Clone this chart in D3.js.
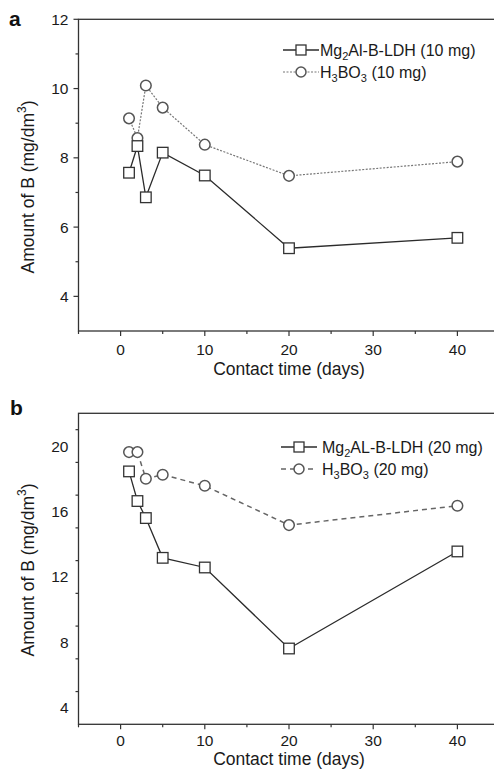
<!DOCTYPE html>
<html>
<head>
<meta charset="utf-8">
<script src="https://cdn.jsdelivr.net/npm/d3@7"></script>
<style>
  body { margin: 0; background: #fff; }
  svg { display: block; font-family: "Liberation Sans", Arial, sans-serif; }
  .tick-label { font-size: 15.5px; fill: #1a1a1a; }
  .axis-title { font-size: 17.5px; fill: #1a1a1a; }
  .legend-text { font-size: 16px; fill: #1a1a1a; }
</style>
</head>
<body>
<div id="chart"></div>
<script>
const days = [1, 2, 3, 5, 10, 20, 40];
const ldhA = [7.57, 8.34, 6.86, 8.15, 7.49, 5.39, 5.69];
const boricA = [9.14, 8.57, 10.09, 9.45, 8.38, 7.48, 7.89];
const ldhB = [18.45, 16.64, 15.6, 13.17, 12.58, 7.63, 13.56];
const boricB = [19.63, 19.63, 18.0, 18.25, 17.57, 15.17, 16.35];
const xTicks = [0, 10, 20, 30, 40];
const yTicksA = [4, 6, 8, 10, 12];
const yTicksB = [4, 8, 12, 16, 20];

const width = 494, height = 769;
const left = 78.5, right = 499.5;
const lineColor = "#2b2b2b";

const svg = d3.select("#chart").append("svg")
    .attr("width", width)
    .attr("height", height);

const x = d3.scaleLinear().domain([-5, 45]).range([left, right]);

function panel(opts) {
    const y = d3.scaleLinear().domain(opts.yDomain).range([opts.bottom, opts.top]);
    const g = svg.append("g");

    // frame
    g.append("rect")
        .attr("x", left).attr("y", opts.top)
        .attr("width", right - left).attr("height", opts.bottom - opts.top)
        .attr("fill", "none").attr("stroke", "#333").attr("stroke-width", 1.3);

    // x ticks (major + minor every 5)
    d3.range(-5, 46, 5).forEach(v => {
        const major = v % 10 === 0;
        g.append("line")
            .attr("x1", x(v)).attr("x2", x(v))
            .attr("y1", opts.bottom).attr("y2", opts.bottom + (major ? 5 : 3))
            .attr("stroke", "#333").attr("stroke-width", 1.2);
    });
    xTicks.forEach(v => {
        g.append("text").attr("class", "tick-label")
            .attr("x", x(v)).attr("y", opts.bottom + opts.tickGap)
            .attr("text-anchor", "middle").text(v);
    });

    // y ticks
    d3.range(opts.yDomain[0] + opts.minorStep, opts.yDomain[1] + 0.01, opts.minorStep).forEach(v => {
        const major = opts.yTicks.includes(Math.round(v * 100) / 100);
        g.append("line")
            .attr("x1", left).attr("x2", left - (major ? 5 : 3))
            .attr("y1", y(v)).attr("y2", y(v))
            .attr("stroke", "#333").attr("stroke-width", 1.2);
    });
    opts.yTicks.forEach(v => {
        g.append("text").attr("class", "tick-label")
            .attr("x", left - 10).attr("y", y(v) + 5.5)
            .attr("text-anchor", "end").text(v);
    });

    // axis titles
    g.append("text").attr("class", "axis-title")
        .attr("x", 289).attr("y", opts.bottom + opts.xTitleGap)
        .attr("text-anchor", "middle").text("Contact time (days)");
    const yt = g.append("text").attr("class", "axis-title")
        .attr("transform", `translate(34,${opts.yLabelY}) rotate(-90)`)
        .attr("text-anchor", "middle");
    yt.append("tspan").text("Amount of B (mg/dm");
    yt.append("tspan").attr("dy", -8).attr("font-size", 12).text("3");
    yt.append("tspan").attr("dy", 8).text(")");

    // panel letter
    g.append("text")
        .attr("x", opts.letterX).attr("y", opts.letterY)
        .attr("font-size", 21).attr("font-weight", "bold").attr("fill", "#111")
        .text(opts.letter);

    const line = d3.line().x(d => x(d[0])).y(d => y(d[1]));

    // boric acid (circles)
    g.append("path")
        .attr("d", line(days.map((d, i) => [d, opts.boric[i]])))
        .attr("fill", "none").attr("stroke", opts.boricColor)
        .attr("stroke-width", opts.boricWidth).attr("stroke-dasharray", opts.dash);
    // LDH (squares)
    g.append("path")
        .attr("d", line(days.map((d, i) => [d, opts.ldh[i]])))
        .attr("fill", "none").attr("stroke", lineColor).attr("stroke-width", 1.3);

    g.selectAll(".circ").data(days).enter().append("circle")
        .attr("cx", d => x(d)).attr("cy", (d, i) => y(opts.boric[i]))
        .attr("r", 5.3).attr("fill", "#fff")
        .attr("stroke", "#555").attr("stroke-width", 1.5);
    g.selectAll(".sq").data(days).enter().append("rect")
        .attr("x", d => x(d) - 5.3).attr("y", (d, i) => y(opts.ldh[i]) - 5.3)
        .attr("width", 10.6).attr("height", 10.6).attr("fill", "#fff")
        .attr("stroke", "#333").attr("stroke-width", 1.3);

    // legend
    const lg = g.append("g");
    const lx1 = opts.legX, lx2 = opts.legX + 36, mid = opts.legX + 18;
    lg.append("line").attr("x1", lx1).attr("x2", lx2)
        .attr("y1", opts.legY).attr("y2", opts.legY)
        .attr("stroke", lineColor).attr("stroke-width", 1.3);
    lg.append("rect").attr("x", mid - 5).attr("y", opts.legY - 5)
        .attr("width", 10).attr("height", 10).attr("fill", "#fff")
        .attr("stroke", "#333").attr("stroke-width", 1.3);
    const t1 = lg.append("text").attr("class", "legend-text")
        .attr("x", lx2 + opts.textGap).attr("y", opts.legY + 5.5);
    t1.append("tspan").text("Mg");
    t1.append("tspan").attr("dy", 4).attr("font-size", 11).text("2");
    t1.append("tspan").attr("dy", -4).text(opts.ldhName);

    const ly2 = opts.legY + opts.legGap;
    lg.append("line").attr("x1", lx1).attr("x2", lx2)
        .attr("y1", ly2).attr("y2", ly2)
        .attr("stroke", opts.boricColor).attr("stroke-width", opts.boricWidth)
        .attr("stroke-dasharray", opts.dash);
    lg.append("circle").attr("cx", mid).attr("cy", ly2).attr("r", 5)
        .attr("fill", "#fff").attr("stroke", "#555").attr("stroke-width", 1.5);
    const t2 = lg.append("text").attr("class", "legend-text")
        .attr("x", lx2 + opts.textGap).attr("y", ly2 + 5.5);
    t2.append("tspan").text("H");
    t2.append("tspan").attr("dy", 4).attr("font-size", 11).text("3");
    t2.append("tspan").attr("dy", -4).text("BO");
    t2.append("tspan").attr("dy", 4).attr("font-size", 11).text("3");
    t2.append("tspan").attr("dy", -4).text(opts.boricName);
}

panel({
    top: 19.3, bottom: 331, yDomain: [3, 12], yTicks: yTicksA, minorStep: 1,
    ldh: ldhA, boric: boricA, boricColor: "#777", boricWidth: 1.2, dash: "2,1.5",
    letter: "a", letterX: 9, letterY: 26, yLabelY: 187, xTitleGap: 44, tickGap: 23.5,
    legX: 283, legY: 50, legGap: 22, textGap: 1,
    ldhName: "Al-B-LDH (10 mg)", boricName: " (10 mg)"
});

panel({
    top: 413.3, bottom: 724.3, yDomain: [3, 22], yTicks: yTicksB, minorStep: 2,
    ldh: ldhB, boric: boricB, boricColor: "#666", boricWidth: 1.5, dash: "5,4",
    letter: "b", letterX: 10, letterY: 415, yLabelY: 570, xTitleGap: 40.5, tickGap: 22,
    legX: 281, legY: 447, legGap: 22, textGap: 5,
    ldhName: "AL-B-LDH (20 mg)", boricName: " (20 mg)"
});
</script>
</body>
</html>
